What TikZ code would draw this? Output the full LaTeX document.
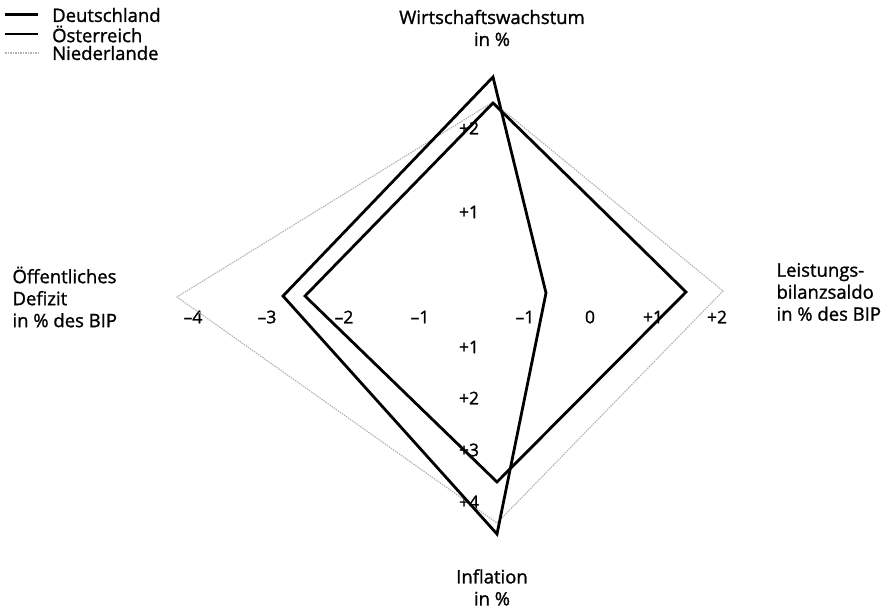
\documentclass[tikz,border=0pt]{standalone}
\usepackage{fontspec}
\setmainfont{Open Sans}[UprightFeatures={FakeBold=1.2}]
\usetikzlibrary{positioning}

\begin{document}
\begin{tikzpicture}[x=1pt, y=-1pt, font=\fontsize{18.5}{22}\selectfont,
    land/.style={line width=2.8pt, line join=miter},
    nlland/.style={gray!60, line width=1.1pt, dash pattern=on 1.5pt off 1pt},
    tick/.style={inner sep=0pt, font=\fontsize{17.5}{20}\selectfont}]
  \useasboundingbox (0,0) rectangle (887,610);

  % legend
  \coordinate (d0) at (5,15);
  \coordinate (o0) at (5,34);
  \coordinate (n0) at (5,53);
  \node [right=47pt of d0, inner sep=0pt] (dleg) {Deutschland};
  \node [right=47pt of o0, inner sep=0pt] (oleg) {Österreich};
  \node [right=47pt of n0, inner sep=0pt] (nleg) {Niederlande};
  \draw[land, line width=3pt] (d0) -- ([xshift=-14pt]dleg.west);
  \draw[land, line width=2.5pt] (o0) -- ([xshift=-14pt]oleg.west);
  \draw[nlland] (n0) -- ([xshift=-14pt]nleg.west);

  % axis titles
  \node [align=center] (wachstum) at (492,28) {Wirtschaftswachstum\\in \%};
  \node [below=516pt of wachstum, align=center] (inflation) {Inflation\\in \%};
  \node [anchor=west, align=left] (defizit) at (9,297) {Öffentliches\\Defizit\\in \% des BIP};
  \node [anchor=west, align=left] (saldo) at (773,292) {Leistungs-\\bilanzsaldo\\in \% des BIP};

  % scale numbers
  \node [tick] (x1) at (193,317) {\textendash4};
  \node [tick] (x2) at (267,317) {\textendash3};
  \node [tick] (x3) at (344,317) {\textendash2};
  \node [tick] (x4) at (420,317) {\textendash1};
  \node [tick] (x5) at (525,317) {\textendash1};
  \node [tick] (x6) at (590,317) {0};
  \node [tick] (x7) at (653,317) {+1};
  \node [tick] (x8) at (717,317) {+2};
  \node [tick] (y1) at (469,128) {+2};
  \node [tick] (y2) at (469,212) {+1};
  \node [tick] (y3) at (469,347) {+1};
  \node [tick] (y4) at (469,398) {+2};
  \node [tick] (y5) at (469,450) {+3};
  \node [tick] (y6) at (469,502) {+4};

  % Niederlande
  \coordinate (nt) at (493,102);
  \coordinate (nr) at (723,291);
  \coordinate (nb) at (497,523);
  \coordinate (nl) at (177,297);
  \draw[nlland] (nt) -- (nr) -- (nb) -- (nl) -- cycle;

  % Deutschland
  \coordinate (dt) at (493,103);
  \coordinate (dr) at (686,292);
  \coordinate (db) at (497,482);
  \coordinate (dl) at (305,296);
  \draw[land] (dt) -- (dr) -- (db) -- (dl) -- cycle;

  % Oesterreich
  \coordinate (ot) at (493,77);
  \coordinate (or) at (546,293);
  \coordinate (ob) at (497,534);
  \coordinate (ol) at (283,296);
  \draw[land] (ot) -- (or) -- (ob) -- (ol) -- cycle;
\end{tikzpicture}
\end{document}
